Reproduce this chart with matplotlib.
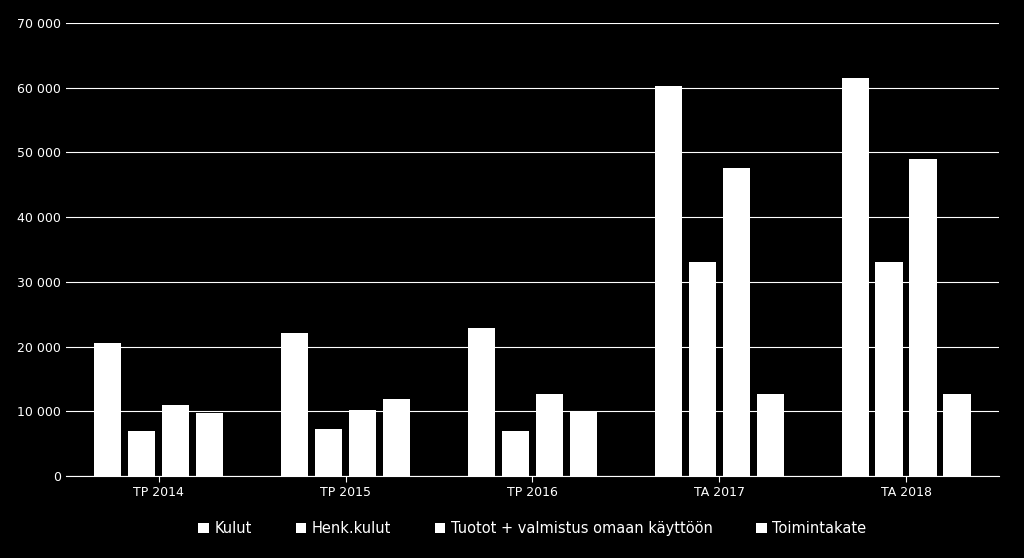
import matplotlib
matplotlib.use("Agg")
import matplotlib.pyplot as plt
import numpy as np
from matplotlib.ticker import FuncFormatter

categories = ["TP 2014", "TP 2015", "TP 2016", "TA 2017", "TA 2018"]
series_names = ["Kulut", "Henk.kulut", "Tuotot + valmistus omaan käyttöön", "Toimintakate"]
kulut = [20600, 22100, 22800, 60200, 61500]
henk = [7000, 7300, 7000, 33100, 33100]
tuotot = [10900, 10200, 12700, 47600, 49000]
toimintakate = [9700, 11900, 10100, 12600, 12600]
series = [kulut, henk, tuotot, toimintakate]

fig = plt.figure(figsize=(10.24, 5.58), dpi=100, facecolor="black")
ax = fig.add_axes([0.064, 0.147, 0.912, 0.812], facecolor="black")
x = np.arange(len(categories))
w = 0.145
step = 0.182
for i, s in enumerate(series):
    ax.bar(x + (i - 1.5) * step, s, width=w, color="white", label=series_names[i], zorder=3)

ax.set_ylim(0, 70000)
ax.set_xlim(-0.5, len(categories) - 0.5)
ax.set_yticks(range(0, 70001, 10000))
ax.yaxis.set_major_formatter(FuncFormatter(lambda v, p: f"{int(v):,}".replace(",", " ")))
ax.set_xticks(x)
ax.set_xticklabels(categories)
ax.grid(axis="y", color="white", linewidth=0.8, zorder=0)
for sp in ["top", "right", "left"]:
    ax.spines[sp].set_visible(False)
ax.spines["bottom"].set_color("white")
ax.tick_params(colors="white", labelsize=9, length=0)
ax.tick_params(axis="x", length=4, color="white")
leg = ax.legend(loc="upper center", bbox_to_anchor=(0.5, -0.07), ncol=4, frameon=False,
                fontsize=10.5, labelcolor="white", handlelength=0.7, handleheight=0.7,
                columnspacing=3.0, handletextpad=0.4)
fig.savefig("out.png", dpi=100, facecolor="black")
